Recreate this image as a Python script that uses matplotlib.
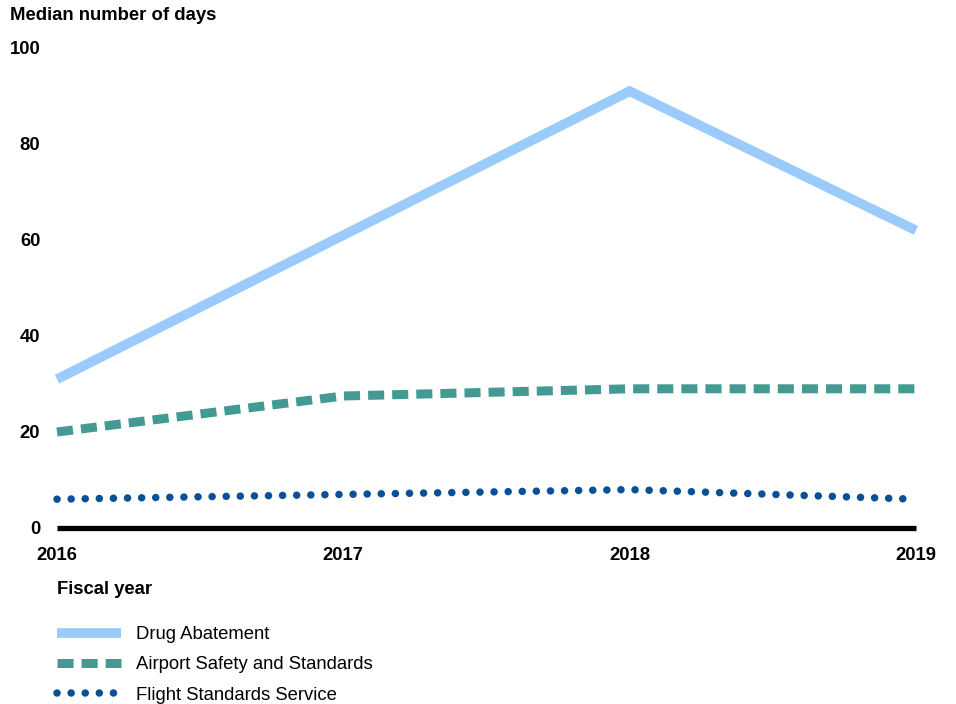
import matplotlib
matplotlib.use("Agg")
import matplotlib.pyplot as plt
from matplotlib.lines import Line2D

plt.rcParams['font.family'] = ['Liberation Sans', 'DejaVu Sans']

years = [2016, 2017, 2018, 2019]
drug_abatement = [31, 61, 91, 62]
airport_safety = [20, 27.5, 29, 29]
flight_standards = [6, 7, 8, 6]
series_names = ["Drug Abatement", "Airport Safety and Standards", "Flight Standards Service"]
yticks = [0, 20, 40, 60, 80, 100]

c_drug = "#9ACBFB"
c_airport = "#439A92"
c_flight = "#0A5097"

fig = plt.figure(figsize=(9.56, 7.04), dpi=100)
ax = fig.add_axes([57/956, 1-528/704, (916-57)/956, (528-48)/704])

drug_style = dict(color=c_drug, lw=7, solid_capstyle='butt', solid_joinstyle='miter')
air_style = dict(color=c_airport, lw=6.5, dashes=(1.78, 0.89), dash_capstyle='butt')
fl_style = dict(color=c_flight, lw=5.4, dashes=(0.01, 1.87), dash_capstyle='round')

ax.plot(years, drug_abatement, clip_on=False, zorder=3, **drug_style)
ax.plot(years, airport_safety, clip_on=False, zorder=3, **air_style)
ax.plot(years, flight_standards, clip_on=False, zorder=3, **fl_style)

ax.set_xlim(2016, 2019)
ax.set_ylim(0, 100)
ax.set_xticks(years)
ax.set_xticklabels([str(y) for y in years], fontsize=13.3, fontweight='bold')
ax.set_yticks(yticks)
ax.set_yticklabels([str(v) for v in yticks], fontsize=13.3, fontweight='bold')
ax.tick_params(axis='both', length=0)
ax.tick_params(axis='x', pad=14)
ax.tick_params(axis='y', pad=12)
for s in ['top', 'right', 'left']:
    ax.spines[s].set_visible(False)
ax.spines['bottom'].set_linewidth(3.8)
ax.spines['bottom'].set_color('black')
ax.spines['bottom'].set_capstyle('butt')

fig.text(10/956, 1-16/704, "Median number of days", fontsize=13.3, fontweight='bold',
         ha='left', va='center')
fig.text(57/956, 1-589/704, "Fiscal year", fontsize=13.3, fontweight='bold',
         ha='left', va='center')

h1 = Line2D([], [], **drug_style)
h2 = Line2D([], [], **air_style)
h3 = Line2D([], [], **fl_style)
fig.legend([h1, h2, h3], series_names, loc='upper left',
           bbox_to_anchor=(57/956, 1-626/704), frameon=False, fontsize=13.3,
           handlelength=3.46, handletextpad=0.83, labelspacing=0.72, borderpad=0,
           borderaxespad=0)

fig.savefig("out.png", dpi=100)
